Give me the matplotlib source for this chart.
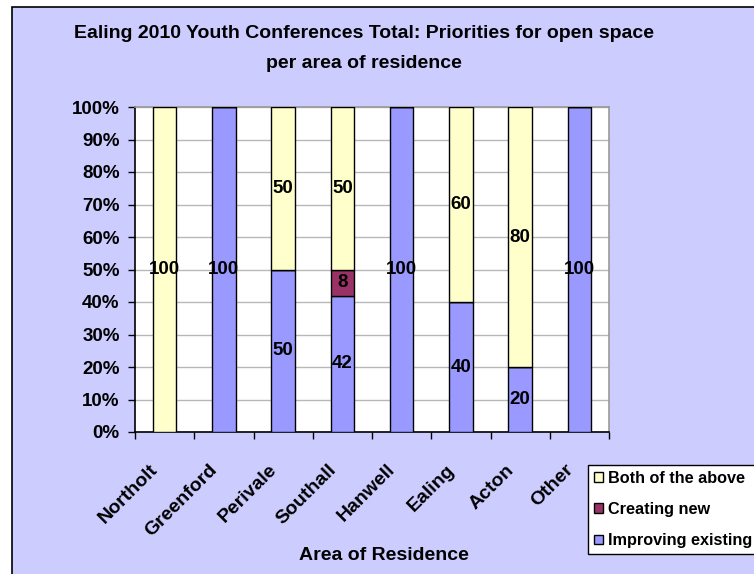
import matplotlib
matplotlib.use('Agg')
import matplotlib.pyplot as plt
from matplotlib.patches import Rectangle
from matplotlib.ticker import FuncFormatter
from matplotlib.transforms import ScaledTranslation
import numpy as np

plt.rcParams['font.family'] = ['Liberation Sans', 'DejaVu Sans']
plt.rcParams['font.weight'] = 'bold'

# Share of answers per area (percent)
areas = ['Northolt', 'Greenford', 'Perivale', 'Southall', 'Hanwell', 'Ealing', 'Acton', 'Other']
improving_existing = [0, 100, 50, 42, 100, 40, 20, 100]
creating_new = [0, 0, 0, 8, 0, 0, 0, 0]
both_of_the_above = [100, 0, 50, 50, 0, 60, 80, 0]

series = [
    ('Improving existing', improving_existing, '#9999FF'),
    ('Creating new', creating_new, '#993366'),
    ('Both of the above', both_of_the_above, '#FFFFCC'),
]

W, H = 754, 574
fig = plt.figure(figsize=(W / 100, H / 100), dpi=100)
fig.patch.set_facecolor('white')

# chart area background with its frame
fig.patches.append(Rectangle((12 / W, -0.1), 1.2, 1 - 7 / H + 0.1, transform=fig.transFigure,
                             facecolor='#CCCCFF', edgecolor='black', linewidth=1.2, zorder=-5))

ax = fig.add_axes([135 / W, (H - 432) / H, (609 - 135) / W, (432 - 107) / H])
ax.set_facecolor('white')

x = np.arange(len(areas))
bottom = np.zeros(len(areas))
bars = {}
for name, vals, col in series:
    vals = np.array(vals, dtype=float)
    b = ax.bar(x, vals, 0.4, bottom=bottom, color=col, edgecolor='black', linewidth=1.0,
               label=name, zorder=3)
    bars[name] = b
    for xi, v, b0 in zip(x, vals, bottom):
        if v > 0:
            ax.text(xi, b0 + v / 2, f'{v:g}', ha='center', va='center',
                    fontsize=13.5, fontweight='bold', zorder=4)
    bottom += vals

ax.set_xlim(-0.5, len(areas) - 0.5)
ax.set_ylim(0, 100)
ax.set_yticks(np.arange(0, 101, 10))
ax.yaxis.set_major_formatter(FuncFormatter(lambda v, p: f'{v:.0f}%'))
ax.yaxis.grid(True, color='#B8B8B8', linewidth=1.0, zorder=0)
ax.tick_params(axis='y', direction='out', length=5, width=1, labelsize=13.5, pad=6)

# category ticks sit between bars
ax.set_xticks(np.arange(-0.5, len(areas) + 0.5, 1), minor=False)
ax.set_xticklabels([''] * (len(areas) + 1))
ax.tick_params(axis='x', direction='out', length=5, width=1)
ax.set_xticks(x, minor=True)
ax.set_xticklabels(areas, minor=True, rotation=45, ha='right', rotation_mode='anchor',
                   fontsize=14, fontweight='bold')
ax.tick_params(axis='x', which='minor', length=0, pad=21)
shift = ScaledTranslation(-0.15, 0, fig.dpi_scale_trans)
for lbl in ax.get_xticklabels(minor=True):
    lbl.set_transform(lbl.get_transform() + shift)

for s in ['left', 'bottom']:
    ax.spines[s].set_color('black')
    ax.spines[s].set_linewidth(1.2)
for s in ['top', 'right']:
    ax.spines[s].set_color('#999999')
    ax.spines[s].set_linewidth(1.2)

fig.text(364 / W, 1 - 33 / H, 'Ealing 2010 Youth Conferences Total: Priorities for open space',
         ha='center', va='center', fontsize=14, fontweight='bold')
fig.text(364 / W, 1 - 63 / H, 'per area of residence',
         ha='center', va='center', fontsize=14, fontweight='bold')
fig.text(384 / W, 1 - 555 / H, 'Area of Residence', ha='center', va='center',
         fontsize=14, fontweight='bold')

handles = [bars['Both of the above'], bars['Creating new'], bars['Improving existing']]
labels = ['Both of the above', 'Creating new', 'Improving existing']
leg = fig.legend(handles, labels, loc='upper left', bbox_to_anchor=(588 / W, 1 - 465 / H),
                 frameon=True, fancybox=False, edgecolor='black', facecolor='white',
                 framealpha=1, borderpad=0.35, labelspacing=1.0, handlelength=0.55,
                 handleheight=0.55, handletextpad=0.3, borderaxespad=0,
                 prop={'weight': 'bold', 'size': 11.7})
leg.get_frame().set_linewidth(1.0)

fig.savefig('out.png', dpi=100, facecolor=fig.get_facecolor())
